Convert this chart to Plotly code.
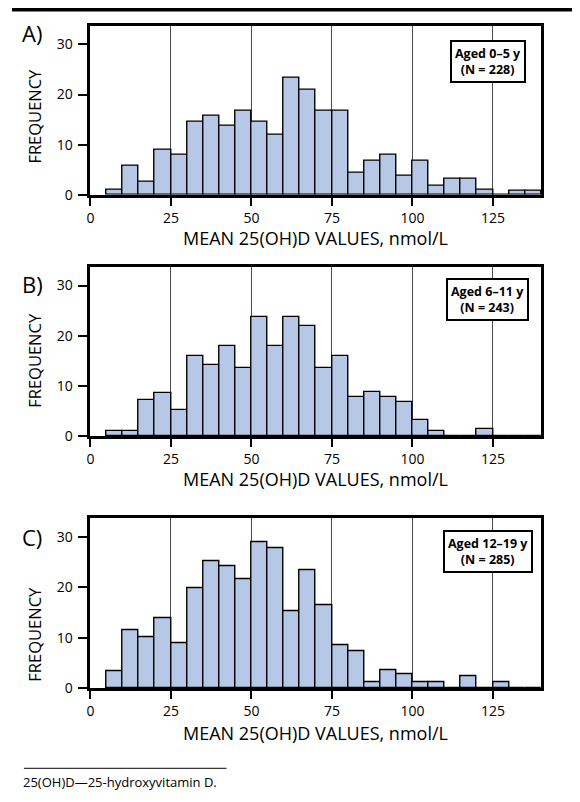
import plotly.graph_objects as go

# ---- data ----
bin_starts = [5, 10, 15, 20, 25, 30, 35, 40, 45, 50, 55, 60, 65, 70, 75, 80, 85, 90, 95, 100,
              105, 110, 115, 120, 125, 130, 135]
bin_width = 5
freq_a = [1.1, 5.7, 2.7, 8.9, 7.9, 14.6, 15.8, 13.7, 16.7, 14.6, 12.0, 23.4, 21.0, 16.7, 16.7,
          4.4, 6.7, 7.9, 3.8, 6.7, 1.8, 3.2, 3.2, 1.05, 0, 0.8, 0.85]
freq_b = [1.05, 1.05, 7.1, 8.6, 5.2, 16.0, 14.2, 17.9, 13.6, 23.7, 17.9, 23.7, 22.0, 13.6, 16.0,
          7.8, 8.8, 7.8, 6.8, 3.3, 1.05, 0, 0, 1.5, 0, 0, 0]
freq_c = [3.4, 11.6, 10.2, 13.9, 8.9, 19.8, 25.1, 24.1, 21.6, 28.9, 27.7, 15.3, 23.4, 16.4, 8.5,
          7.3, 1.2, 3.6, 2.7, 1.2, 1.2, 0, 2.4, 0, 1.2, 0, 0]
panel_labels = ["A)", "B)", "C)"]
group_labels = ["Aged 0–5 y<br>(N = 228)", "Aged 6–11 y<br>(N = 243)", "Aged 12–19 y<br>(N = 285)"]
x_ticks = [0, 25, 50, 75, 100, 125]
y_ticks = [0, 10, 20, 30]
x_title = "MEAN 25(OH)D VALUES, nmol/L"
y_title = "FREQUENCY"
footnote = "25(OH)D—25-hydroxyvitamin D."

# page body has an 8px margin; the figure is sized to fit the remaining window
OFF = 8
W, H = 580 - OFF, 802 - OFF
FONT = "Open Sans, Liberation Sans, Arial, sans-serif"

def px(x):
    return (x - OFF) / W

def py(y):
    return 1 - (y - OFF) / H

# panel geometry (window pixels from top): plot top, plot bottom
panels = [(26.0, 197.0), (270.0, 441.0), (524.0, 696.0)]
xtitle_y = [241, 484, 741]
ytitle_y = [117, 364, 641]
label_y = [33.5, 287, 543]
box_y = [62, 303, 558]

fig = go.Figure()
centers = [b + bin_width / 2 for b in bin_starts]
for i, freqs in enumerate([freq_a, freq_b, freq_c]):
    suffix = "" if i == 0 else str(i + 1)
    fig.add_trace(go.Bar(
        x=centers, y=freqs, width=bin_width,
        marker=dict(color="#b7c7e6", line=dict(color="black", width=1.4)),
        xaxis="x" + suffix, yaxis="y" + suffix, showlegend=False,
    ))
    top, bot = panels[i]
    xa = dict(
        domain=[px(87), px(541)], range=[0, 140], anchor="y" + suffix,
        tickvals=x_ticks, showgrid=True, gridcolor="#4a4a4a", gridwidth=1,
        ticks="outside", ticklen=8, tickwidth=1.5, tickcolor="black",
        showline=True, linecolor="black", linewidth=3, mirror=True,
        zeroline=False, tickfont=dict(size=14, color="black", family=FONT),
    )
    ya = dict(
        domain=[py(bot), py(top)], range=[0, 33.7], anchor="x" + suffix,
        tickvals=y_ticks, showgrid=False,
        ticks="outside", ticklen=9, tickwidth=1.5, tickcolor="black",
        showline=True, linecolor="black", linewidth=3, mirror=True,
        zeroline=False, tickfont=dict(size=14, color="black", family=FONT),
        ticklabelstandoff=3,
    )
    fig.update_layout(**{"xaxis" + suffix: xa, "yaxis" + suffix: ya})

    fig.add_annotation(x=px(314), y=py(xtitle_y[i]), xref="paper", yref="paper",
                       text=x_title, showarrow=False, xanchor="center", yanchor="middle",
                       font=dict(size=18, color="black", family=FONT))
    fig.add_annotation(x=px(31), y=py(ytitle_y[i]), xref="paper", yref="paper",
                       text=y_title, showarrow=False, textangle=-90,
                       xanchor="center", yanchor="middle",
                       font=dict(size=16.5, color="black", family=FONT))
    fig.add_annotation(x=px(16), y=py(label_y[i]), xref="paper", yref="paper",
                       text=panel_labels[i], showarrow=False, xanchor="left", yanchor="middle",
                       font=dict(size=22, color="black", family=FONT))
    fig.add_annotation(x=px(487), y=py(box_y[i]), xref="paper", yref="paper",
                       text="<b>" + group_labels[i] + "</b>", showarrow=False,
                       xanchor="center", yanchor="middle", align="center",
                       bgcolor="white", bordercolor="black", borderwidth=2, borderpad=3,
                       font=dict(size=12.5, color="black", family=FONT))

# top rule
fig.add_shape(type="rect", xref="paper", yref="paper", x0=0, x1=1, y0=py(11.5), y1=py(7),
              fillcolor="black", line=dict(width=0))
# footnote rule and text
fig.add_shape(type="line", xref="paper", yref="paper", x0=px(20), x1=px(224),
              y0=py(777), y1=py(777), line=dict(color="black", width=1))
fig.add_annotation(x=px(17), y=py(791), xref="paper", yref="paper", text=footnote,
                   showarrow=False, xanchor="left", yanchor="middle",
                   font=dict(size=13, color="black", family=FONT))

fig.update_layout(
    width=W, height=H, margin=dict(l=0, r=0, t=0, b=0),
    paper_bgcolor="white", plot_bgcolor="white", bargap=0,
    font=dict(family=FONT, color="black"),
)
fig.write_html("out.html")
